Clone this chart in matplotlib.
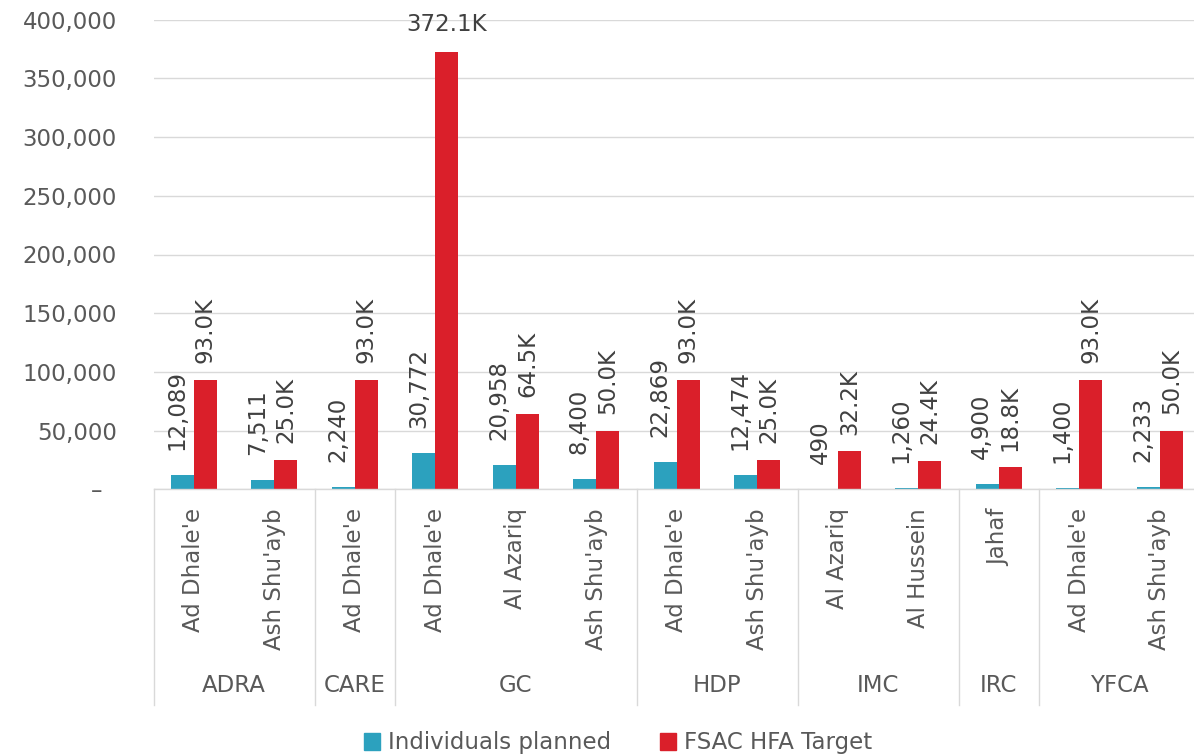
import numpy as np
import matplotlib
matplotlib.use("Agg")
import matplotlib.pyplot as plt
import matplotlib.transforms as mtransforms
from matplotlib.patches import Patch
from matplotlib.ticker import FuncFormatter

# partners -> districts (two-level category axis)
groups = ["ADRA", "CARE", "GC", "HDP", "IMC", "IRC", "YFCA"]
group_sizes = [2, 1, 3, 2, 2, 1, 2]
districts = ["Ad Dhale'e", "Ash Shu'ayb", "Ad Dhale'e", "Ad Dhale'e", "Al Azariq",
             "Ash Shu'ayb", "Ad Dhale'e", "Ash Shu'ayb", "Al Azariq", "Al Hussein",
             "Jahaf", "Ad Dhale'e", "Ash Shu'ayb"]
planned = [12089, 7511, 2240, 30772, 20958, 8400, 22869, 12474, 490, 1260, 4900, 1400, 2233]
target = [93000, 25000, 93000, 372100, 64500, 50000, 93000, 25000, 32200, 24400, 18800, 93000, 50000]

TEAL = "#2CA1BE"
RED = "#DA1F2A"
GRID = "#D9D9D9"
TXT = "#595959"
LBL = "#404040"
FS = 16.5

plt.rcParams['font.family'] = ['DejaVu Sans']

fig = plt.figure(figsize=(11.94, 7.56), dpi=100)
W, H = 1194, 756
ax_left, ax_right, ax_top, ax_bot = 153.75, 1200, 19.7, 489.3
ax = fig.add_axes([ax_left / W, 1 - ax_bot / H, (ax_right - ax_left) / W, (ax_bot - ax_top) / H])
ax_h_px = ax_bot - ax_top

x = np.arange(len(districts))
bw = 0.286
ax.bar(x - bw / 2, planned, bw, color=TEAL, zorder=2)
ax.bar(x + bw / 2, target, bw, color=RED, zorder=2)

ax.set_xlim(-0.5, len(districts) - 0.5)
ax.set_ylim(0, 400000)
ax.set_yticks(np.arange(0, 400001, 50000))
ax.yaxis.set_major_formatter(FuncFormatter(lambda v, p: "–  " if v == 0 else "{:,.0f}".format(v)))
ax.tick_params(axis='y', length=0, pad=26.5, labelsize=FS, labelcolor=TXT)
ax.set_xticks([])
ax.grid(axis='y', color=GRID, linewidth=1.0, zorder=0)
ax.set_axisbelow(True)
for s in ["top", "right", "left"]:
    ax.spines[s].set_visible(False)
ax.spines["bottom"].set_color(GRID)
ax.spines["bottom"].set_linewidth(1.0)

# data labels
for xi, v in zip(x, planned):
    ax.annotate("{:,}".format(v), (xi - bw / 2, v), xytext=(-4, 18), textcoords='offset points',
                rotation=90, ha='center', va='bottom', fontsize=FS, color=LBL)
for xi, v in zip(x, target):
    if v > 300000:
        ax.annotate("{:.1f}K".format(v / 1000), (xi + bw / 2, v), xytext=(0, 15.5),
                    textcoords='offset points', ha='center', va='baseline', fontsize=FS, color=LBL)
    else:
        ax.annotate("{:.1f}K".format(v / 1000), (xi + bw / 2, v), xytext=(0, 12),
                    textcoords='offset points', rotation=90, ha='center', va='bottom',
                    fontsize=FS, color=LBL)

# multi-level category axis
trans = mtransforms.blended_transform_factory(ax.transData, ax.transAxes)
for xi, name in zip(x, districts):
    ax.annotate(name, (xi, 0), xycoords=trans, xytext=(0, -13.7), textcoords='offset points',
                rotation=90, ha='center', va='top', fontsize=FS, color=TXT)

edges = np.concatenate([[0], np.cumsum(group_sizes)]) - 0.5
sep_y = -216 / ax_h_px
for e in edges:
    ax.plot([e, e], [0, sep_y], transform=trans, color=GRID, lw=1.0, clip_on=False)
for g, a, b in zip(groups, edges[:-1], edges[1:]):
    ax.text((a + b) / 2, -196 / ax_h_px, g, transform=trans, ha='center', va='center',
            fontsize=FS, color=TXT)

handles = [Patch(color=TEAL, label="Individuals planned"), Patch(color=RED, label="FSAC HFA Target")]
fig.legend(handles=handles, loc='center', bbox_to_anchor=(618 / W, 1 - 743 / H), ncol=2,
           frameon=False, fontsize=FS, labelcolor=TXT, handlelength=0.7, handleheight=0.7,
           handletextpad=0.36, columnspacing=2.1)

fig.savefig("out.png", dpi=100)
